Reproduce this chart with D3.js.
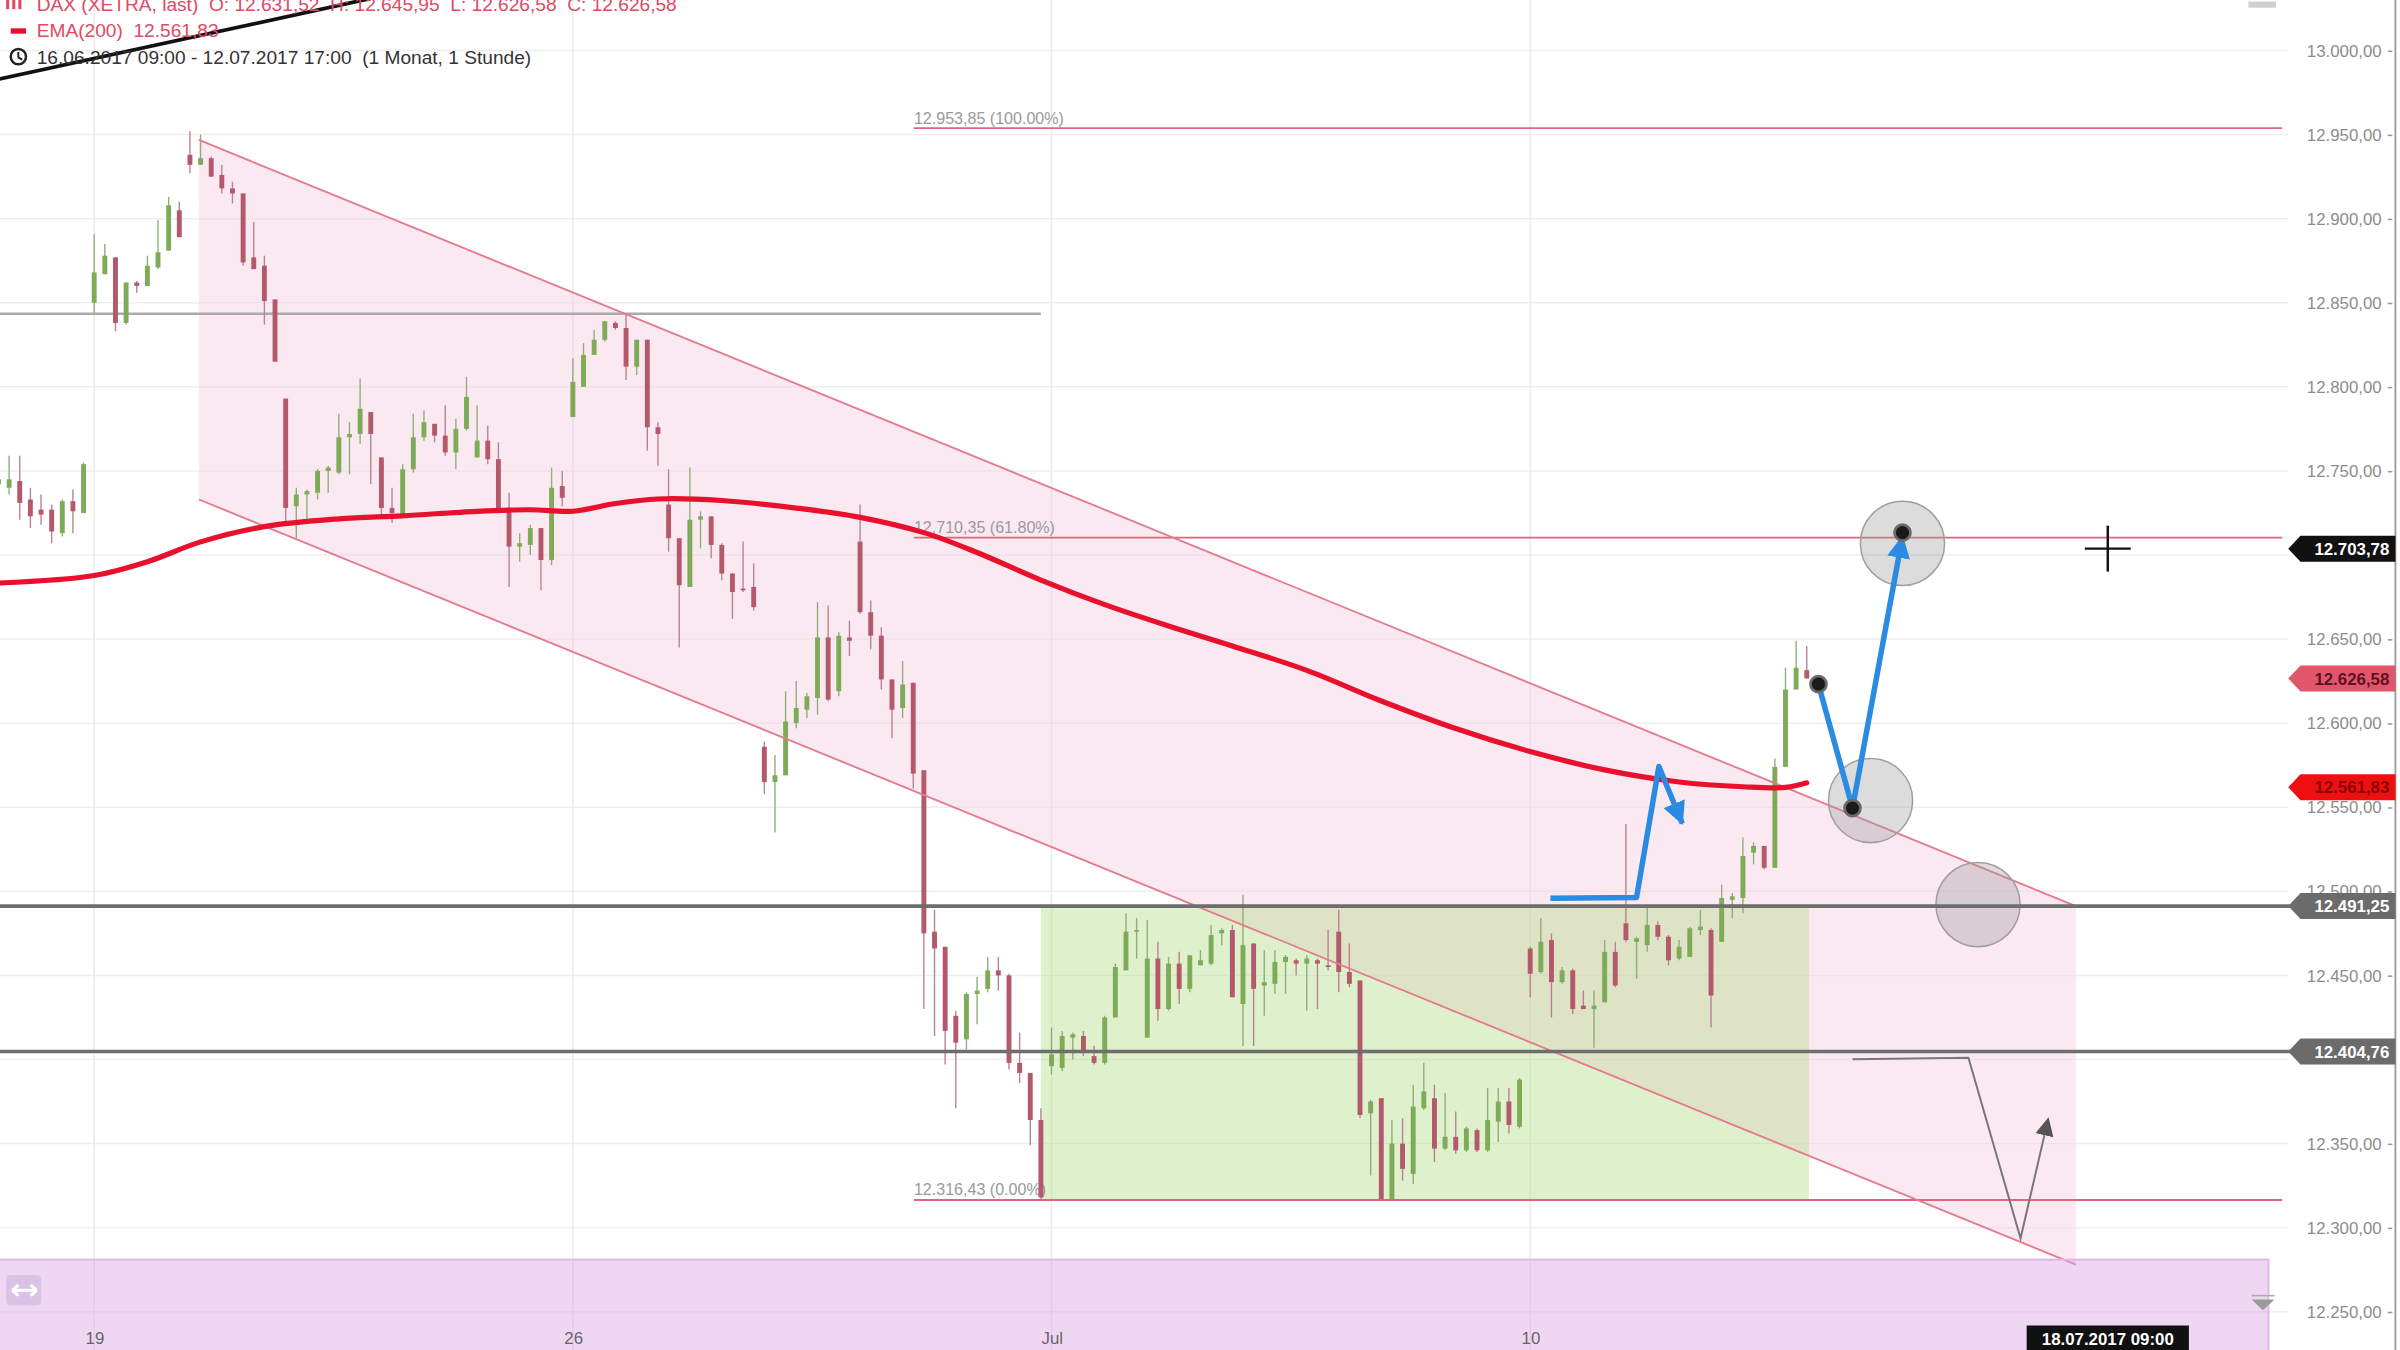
<!DOCTYPE html>
<html><head><meta charset="utf-8">
<script src="https://cdn.jsdelivr.net/npm/d3@7"></script>
<style>html,body{margin:0;padding:0;background:#fff;overflow:hidden}svg{display:block;font-family:"Liberation Sans",Arial,sans-serif}</style>
</head><body>
<svg id="chart" width="2400" height="1350" viewBox="0 0 1568 882"></svg>
<script>
// ---------- DATA (hourly candles, index 0 = 16.06.2017 09:00) ----------
const candleOpen = [
12742,12740,12744,12733,12727,12727,12713,12732,12725,
12850,12867,12877,12838,12862,12860,12871,12881,12905,
12938,12932,12936,12926,12918,12915,12877,12872,12852,
12793,12729,12736,12737,12750,12749,12770,12772,12785,
12758,12728,12724,12751,12770,12778,12771,12761,12775,
12758,12768,12757,12728,12705,12706,12716,12697,12741,
12782,12800,12819,12828,12838,12835,12812,12828,12776,
12730,12710,12681,12721,12723,12706,12689,12680,12681,
12586,12565,12569,12600,12608,12615,12651,12619,12651,
12708,12666,12652,12626,12609,12624,12572,12476,12467,
12426,12412,12439,12442,12453,12450,12398,12392,12364,
12396,12395,12413,12414,12402,12398,12425,12453,12476,
12413,12460,12430,12457,12442,12456,12457,12475,12477,
12433,12469,12444,12445,12458,12459,12457,12459,12456,
12476,12452,12447,12368,12377,12317,12350,12332,12371,
12377,12347,12354,12346,12358,12346,12363,12375,12360,
12466,12452,12471,12446,12453,12432,12430,12434,12464,
12481,12470,12468,12480,12473,12460,12461,12477,12477,
12470,12495,12496,12523,12527,12514,12574,12620,12631.52];
const candleHigh = [
12752,12759,12759,12740,12736,12730,12733,12739,12755,
12891,12885,12877,12862,12863,12878,12899,12913,12910,
12952,12950,12937,12932,12922,12915,12898,12878,12852,
12793,12740,12739,12751,12753,12784,12779,12805,12785,
12758,12740,12754,12784,12786,12778,12789,12781,12806,
12789,12777,12767,12737,12713,12718,12716,12752,12750,
12817,12826,12834,12839,12839,12843,12828,12828,12779,
12751,12710,12752,12726,12723,12707,12689,12708,12695,
12589,12581,12619,12625,12618,12672,12670,12654,12661,
12730,12673,12657,12626,12637,12624,12572,12489,12467,
12429,12440,12449,12461,12461,12451,12416,12392,12371,
12419,12417,12416,12417,12408,12426,12457,12487,12484,
12483,12470,12461,12464,12462,12465,12480,12478,12480,
12498,12469,12465,12465,12462,12460,12462,12460,12477,
12489,12469,12447,12376,12377,12364,12365,12385,12398,
12385,12380,12369,12360,12359,12383,12383,12383,12389,
12467,12484,12475,12455,12454,12441,12441,12471,12470,
12540,12473,12491,12482,12474,12471,12479,12489,12478,
12504,12499,12532,12529,12527,12579,12633,12649,12645.95];
const candleLow = [
12735,12736,12721,12716,12718,12707,12711,12713,12725,
12844,12867,12833,12837,12856,12860,12870,12881,12889,
12927,12932,12925,12915,12909,12872,12870,12837,12815,
12720,12709,12720,12733,12737,12748,12748,12766,12742,
12723,12719,12724,12749,12768,12767,12759,12751,12774,
12758,12754,12728,12681,12696,12700,12679,12694,12729,
12782,12800,12819,12827,12834,12804,12807,12762,12753,
12702,12645,12681,12704,12698,12685,12662,12678,12667,
12558,12535,12569,12597,12603,12605,12613,12616,12640,
12665,12644,12620,12591,12603,12561,12430,12414,12397,
12371,12406,12421,12440,12441,12394,12386,12349,12317,
12391,12393,12400,12402,12397,12397,12425,12453,12460,
12413,12423,12429,12433,12440,12456,12456,12468,12437,
12408,12408,12426,12439,12439,12450,12429,12430,12453,
12440,12443,12365,12331,12316,12317,12328,12326,12370,
12339,12346,12344,12345,12345,12345,12351,12356,12359,
12437,12451,12425,12445,12427,12430,12407,12434,12443,
12470,12448,12464,12471,12456,12459,12461,12474,12419,
12470,12484,12487,12516,12513,12514,12574,12620,12626.58];
const candleClose = [
12745,12745,12731,12723,12724,12714,12732,12726,12754,
12868,12878,12838,12862,12860,12872,12880,12908,12889,
12932,12936,12925,12918,12915,12874,12870,12851,12815,
12728,12736,12738,12750,12752,12770,12772,12787,12772,
12728,12725,12751,12770,12779,12771,12761,12775,12794,
12768,12757,12728,12705,12707,12716,12697,12740,12734,
12803,12819,12828,12839,12835,12812,12828,12776,12772,
12710,12682,12721,12723,12706,12689,12678,12679,12669,
12565,12569,12601,12609,12616,12651,12614,12652,12649,
12666,12652,12626,12608,12623,12570,12475,12466,12417,
12410,12439,12441,12453,12450,12398,12392,12364,12318,
12403,12414,12415,12405,12398,12425,12455,12476,12477,
12460,12430,12457,12442,12462,12459,12474,12477,12437,
12468,12442,12446,12458,12461,12457,12460,12457,12455,
12452,12445,12367,12375,12317,12350,12335,12372,12381,
12347,12354,12346,12359,12346,12364,12375,12361,12388,
12451,12470,12446,12453,12430,12430,12432,12464,12444,
12471,12472,12480,12473,12459,12467,12478,12479,12438,
12496,12497,12521,12527,12514,12574,12620,12633,12626.58];

// EMA(200) read at candle indices
const emaIndex = [0,9,14,19,25,32,38,45,50,54,58,62,68,75,81,87,92,98,104,110,116,123,130,137,144,151,158,164,168,170];
const emaValue = [12683.3,12687.8,12696,12707.8,12716.9,12721.5,12723.3,12726,12726.9,12726,12730.6,12733.3,12732.4,12727.9,12722.4,12713.3,12701.5,12685.1,12670.5,12657.8,12645.9,12631.4,12613.2,12596.8,12583.1,12572.2,12565,12562.2,12561.8,12564.5];

// axis ticks
const yTickValues = [12250,12300,12350,12400,12450,12500,12550,12600,12650,12700,12750,12800,12850,12900,12950,13000];
const yTickHidden = [12400,12700]; // covered by price tags in the reference
const xTickIndex = [9,54,99,144];
const xTickLabels = ["19","26","Jul","10"];

// drawings (candle index, price)
const channelIndex = [18.85,195.3];
const channelUpper = [12946.8,12491.25];
const channelLower = [12733,12278];
const fibIndex = [86.06,214.7];
const fibLevels = [12953.85,12710.35,12316.43];
const fibLabels = ["12.953,85 (100.00%)","12.710,35 (61.80%)","12.316,43 (0.00%)"];
const supportLevels = [12491.25,12404.76];
const grayLineLevel = 12843.5, grayLineIndex = [-2,98.0];
const boxIndex = [98.0,170.2], boxLevels = [12316.43,12491.25];
const bandIndex = [-2,213.4], bandLevels = [12281,12200];
const blueArrow1Index = [145.9,154.0,156.1,158.3];
const blueArrow1Value = [12495.9,12496.4,12574.2,12540.3];
const blueArrow2Index = [171.1,174.3,179.0];
const blueArrow2Value = [12623.2,12549.5,12711];
const dotIndex = [171.1,174.3,179.0];
const dotValue = [12623.2,12549.5,12713.3];
const circleIndex = [179.0,176.0,186.1];
const circleValue = [12706.9,12554,12492.1];
const grayArrowIndex = [174.3,185.2,190.1,192.7];
const grayArrowValue = [12400.2,12401.1,12293.7,12364.7];
const trendIndex = [-1,35], trendValue = [12981.5,13031];
const crossIndex = 198.3, crossValue = 12703.78;
const tagValues = [12703.78,12626.58,12561.83,12491.25,12404.76];
const tagLabels = ["12.703,78","12.626,58","12.561,83","12.491,25","12.404,76"];
const tagFill = ["#111111","#e2566c","#ee1010","#6b6b6b","#6b6b6b"];
const tagText = ["#ffffff","#5c1222","#8a0000","#ffffff","#ffffff"];
const legendOHLC = "DAX (XETRA, last)  O: 12.631,52  H: 12.645,95  L: 12.626,58  C: 12.626,58";
const legendEMA = "EMA(200)  12.561,83";
const legendRange = "16.06.2017 09:00 - 12.07.2017 17:00  (1 Monat, 1 Stunde)";
const cursorDate = "18.07.2017 09:00";

// ---------- SCALES ----------
const svg = d3.select("#chart");
const x = d3.scaleLinear().domain([0,198]).range([-1,1375]);
const y = d3.scaleLinear().domain([12250,13000]).range([857,33]);
const de = d3.formatLocale({decimal:",",thousands:".",grouping:[3],currency:["","€"]});
const fmt = de.format(",.2f");
const PLOT_R = 1495, AXIS_X = 1565;

const defs = svg.append("defs");
function marker(id, color, len, hw){
  defs.append("marker").attr("id",id).attr("markerUnits","userSpaceOnUse")
    .attr("viewBox",`0 ${-hw} ${len} ${2*hw}`).attr("refX",len-1).attr("refY",0)
    .attr("markerWidth",len).attr("markerHeight",2*hw).attr("orient","auto")
    .append("path").attr("d",`M0,${-hw}L${len},0L0,${hw}Z`).attr("fill",color);
}
marker("blueHead","#2a8be2",15,7.5);
marker("grayHead","#555",12,6);
svg.append("clipPath").attr("id","plotClip").append("rect").attr("x",0).attr("y",0).attr("width",PLOT_R).attr("height",882);

svg.append("rect").attr("width",1568).attr("height",882).attr("fill","#fff");

// grid
const grid = svg.append("g");
grid.selectAll("line.h").data(yTickValues).join("line").attr("class","h")
  .attr("x1",0).attr("x2",PLOT_R).attr("y1",d=>y(d)).attr("y2",d=>y(d))
  .attr("stroke","#eeeeee").attr("stroke-width",1);
grid.selectAll("line.v").data(xTickIndex).join("line").attr("class","v")
  .attr("x1",d=>x(d)).attr("x2",d=>x(d)).attr("y1",0).attr("y2",882)
  .attr("stroke","#ececec").attr("stroke-width",1);

const plot = svg.append("g").attr("clip-path","url(#plotClip)");

// channel fill
const chan = [[channelIndex[0],channelUpper[0]],[channelIndex[1],channelUpper[1]],[channelIndex[1],channelLower[1]],[channelIndex[0],channelLower[0]]];
plot.append("path").attr("d",d3.line().x(d=>x(d[0])).y(d=>y(d[1]))(chan)+"Z")
  .attr("fill","#f6cfdf").attr("fill-opacity",0.45);

// green box
plot.append("rect").attr("x",x(boxIndex[0])).attr("width",x(boxIndex[1])-x(boxIndex[0]))
  .attr("y",y(boxLevels[1])).attr("height",y(boxLevels[0])-y(boxLevels[1]))
  .attr("fill","#b2dc86").attr("fill-opacity",0.42);

// gray horizontal line
plot.append("line").attr("x1",x(grayLineIndex[0])).attr("x2",x(grayLineIndex[1]))
  .attr("y1",y(grayLineLevel)).attr("y2",y(grayLineLevel)).attr("stroke","#aaaaaa").attr("stroke-width",1.6);

// support lines
svg.selectAll("line.sup").data(supportLevels).join("line").attr("class","sup")
  .attr("x1",0).attr("x2",PLOT_R+4).attr("y1",d=>y(d)).attr("y2",d=>y(d))
  .attr("stroke","#6e6e6e").attr("stroke-width",2.4);

// fib lines
plot.selectAll("line.fib").data(fibLevels).join("line").attr("class","fib")
  .attr("x1",x(fibIndex[0])).attr("x2",x(fibIndex[1])).attr("y1",d=>y(d)).attr("y2",d=>y(d))
  .attr("stroke","#e0647c").attr("stroke-width",1.2);
plot.selectAll("text.fib").data(fibLevels).join("text").attr("class","fib")
  .attr("x",x(fibIndex[0])).attr("y",d=>y(d)-3).text((d,i)=>fibLabels[i])
  .attr("font-size",10.5).attr("fill","#9a9a9a");

// candles
const idx = d3.range(candleOpen.length);
const cg = plot.append("g");
cg.selectAll("line.wick").data(idx).join("line").attr("class","wick")
  .attr("x1",i=>x(i)).attr("x2",i=>x(i))
  .attr("y1",i=>y(Math.max(candleHigh[i],candleOpen[i],candleClose[i])))
  .attr("y2",i=>y(Math.min(candleLow[i],candleOpen[i],candleClose[i])))
  .attr("stroke",i=>candleClose[i]>=candleOpen[i]?"#8fae7a":"#b98290").attr("stroke-width",0.9);
cg.selectAll("rect.body").data(idx).join("rect").attr("class","body")
  .attr("x",i=>x(i)-1.6).attr("width",3.2)
  .attr("y",i=>y(Math.max(candleOpen[i],candleClose[i])))
  .attr("height",i=>Math.max(1,Math.abs(y(candleOpen[i])-y(candleClose[i]))))
  .attr("fill",i=>candleClose[i]>=candleOpen[i]?"#7dab58":"#b4596c");

// channel lines
plot.selectAll("line.chan").data([channelUpper,channelLower]).join("line").attr("class","chan")
  .attr("x1",x(channelIndex[0])).attr("x2",x(channelIndex[1]))
  .attr("y1",d=>y(d[0])).attr("y2",d=>y(d[1]))
  .attr("stroke","#e5798f").attr("stroke-width",1.2);

// EMA
plot.append("path").datum(emaIndex.map((d,i)=>[d,emaValue[i]]))
  .attr("d",d3.line().x(d=>x(d[0])).y(d=>y(d[1])).curve(d3.curveCatmullRom))
  .attr("fill","none").attr("stroke","#e8102c").attr("stroke-width",3.4).attr("stroke-linecap","round");

// trend line (top-left)
plot.append("line").attr("x1",x(trendIndex[0])).attr("x2",x(trendIndex[1]))
  .attr("y1",y(trendValue[0])).attr("y2",y(trendValue[1])).attr("stroke","#111").attr("stroke-width",2.4);

// bottom band
svg.append("rect").attr("x",x(bandIndex[0])).attr("width",x(bandIndex[1])-x(bandIndex[0]))
  .attr("y",y(bandLevels[0])).attr("height",y(bandLevels[1])-y(bandLevels[0]))
  .attr("fill","#dca6e6").attr("fill-opacity",0.45).attr("stroke","#e2b3ea").attr("stroke-width",1.2);

// gray circles
plot.selectAll("circle.zone").data(circleIndex).join("circle").attr("class","zone")
  .attr("cx",d=>x(d)).attr("cy",(d,i)=>y(circleValue[i])).attr("r",27.5)
  .attr("fill","#9a9a9a").attr("fill-opacity",0.35).attr("stroke","#a0a0a0").attr("stroke-width",1);

// gray arrow
plot.append("path").datum(grayArrowIndex.map((d,i)=>[d,grayArrowValue[i]]))
  .attr("d",d3.line().x(d=>x(d[0])).y(d=>y(d[1])))
  .attr("fill","none").attr("stroke","#777").attr("stroke-width",1.3).attr("marker-end","url(#grayHead)");

// blue arrows
plot.append("path").datum(blueArrow1Index.map((d,i)=>[d,blueArrow1Value[i]]))
  .attr("d",d3.line().x(d=>x(d[0])).y(d=>y(d[1])))
  .attr("fill","none").attr("stroke","#2a8be2").attr("stroke-width",3.6).attr("stroke-linejoin","round")
  .attr("marker-end","url(#blueHead)");
plot.append("path").datum(blueArrow2Index.map((d,i)=>[d,blueArrow2Value[i]]))
  .attr("d",d3.line().x(d=>x(d[0])).y(d=>y(d[1])))
  .attr("fill","none").attr("stroke","#2a8be2").attr("stroke-width",3.6).attr("stroke-linejoin","round")
  .attr("marker-end","url(#blueHead)");

// black dots
plot.selectAll("circle.dot").data(dotIndex).join("circle").attr("class","dot")
  .attr("cx",d=>x(d)).attr("cy",(d,i)=>y(dotValue[i])).attr("r",5.2)
  .attr("fill","#1a1a1a").attr("stroke","#6a6a6a").attr("stroke-width",1.8);

// crosshair
const cx0 = x(crossIndex), cy0 = y(crossValue);
svg.append("line").attr("x1",cx0-15).attr("x2",cx0+15).attr("y1",cy0).attr("y2",cy0).attr("stroke","#111").attr("stroke-width",1.6);
svg.append("line").attr("x1",cx0).attr("x2",cx0).attr("y1",cy0-15).attr("y2",cy0+15).attr("stroke","#111").attr("stroke-width",1.6);

// Y axis
const yAxisG = svg.append("g").attr("transform",`translate(${AXIS_X-2},0)`)
  .call(d3.axisLeft(y).tickValues(yTickValues).tickSize(3).tickPadding(4)
    .tickFormat(d=>yTickHidden.includes(d)?"":fmt(d)));
yAxisG.select(".domain").remove();
yAxisG.selectAll("text").attr("font-size",11).attr("fill","#8c8c8c").attr("font-family","Liberation Sans, Arial, sans-serif");
yAxisG.selectAll("line").attr("stroke","#999");
svg.append("line").attr("x1",AXIS_X).attr("x2",AXIS_X).attr("y1",0).attr("y2",882).attr("stroke","#9a9a9a").attr("stroke-width",1.2);

// X axis
const xAxisG = svg.append("g").attr("transform","translate(0,866)")
  .call(d3.axisBottom(x).tickValues(xTickIndex).tickSize(0).tickPadding(4).tickFormat((d,i)=>xTickLabels[i]));
xAxisG.select(".domain").remove();
xAxisG.selectAll("text").attr("font-size",11).attr("fill","#666").attr("font-family","Liberation Sans, Arial, sans-serif");

// price tags
const tags = svg.append("g").selectAll("g").data(tagValues).join("g")
  .attr("transform",d=>`translate(0,${y(d)})`);
tags.append("path").attr("d",`M${PLOT_R},0L${PLOT_R+8},-8.5L${AXIS_X},-8.5L${AXIS_X},8.5L${PLOT_R+8},8.5Z`)
  .attr("fill",(d,i)=>tagFill[i]);
tags.append("text").attr("x",AXIS_X-4).attr("y",4).attr("text-anchor","end")
  .attr("font-size",11).attr("font-weight","bold").attr("fill",(d,i)=>tagText[i]).text((d,i)=>tagLabels[i]);

// cursor date label
svg.append("rect").attr("x",cx0-53).attr("y",866).attr("width",106).attr("height",17).attr("fill","#111");
svg.append("text").attr("x",cx0).attr("y",879).attr("text-anchor","middle").attr("font-size",11)
  .attr("font-weight","bold").attr("fill","#fff").text(cursorDate);

// small UI bits
svg.append("rect").attr("x",1469).attr("y",1).attr("width",18).attr("height",4).attr("fill","#cfcfcf");
svg.append("rect").attr("x",4).attr("y",833).attr("width",23).attr("height",20).attr("rx",3).attr("fill","#d9c2e3");
svg.append("path").attr("d","M8,843L24,843M8,843L12,839.5M8,843L12,846.5M24,843L20,839.5M24,843L20,846.5")
  .attr("stroke","#fff").attr("stroke-width",2).attr("fill","none");
svg.append("path").attr("d","M1471,849L1486,849L1478.5,856Z").attr("fill","#9a9a9a");
svg.append("line").attr("x1",1471).attr("x2",1486).attr("y1",846.5).attr("y2",846.5).attr("stroke","#aaa").attr("stroke-width",1);

// legend
const leg = svg.append("g").attr("font-size",12.5);
leg.append("rect").attr("x",4).attr("y",-2).attr("width",2).attr("height",8).attr("fill","#e04a63");
leg.append("rect").attr("x",8).attr("y",0).attr("width",2).attr("height",6).attr("fill","#e04a63");
leg.append("rect").attr("x",12).attr("y",-1).attr("width",2).attr("height",7).attr("fill","#e04a63");
leg.append("text").attr("x",24).attr("y",7).attr("fill","#e04a63").attr("xml:space","preserve").text(legendOHLC);
leg.append("rect").attr("x",7).attr("y",18.5).attr("width",10).attr("height",3.5).attr("fill","#e3112d");
leg.append("text").attr("x",24).attr("y",24).attr("fill","#e04a63").attr("xml:space","preserve").text(legendEMA);
leg.append("circle").attr("cx",12).attr("cy",37).attr("r",5).attr("fill","none").attr("stroke","#222").attr("stroke-width",1.6);
leg.append("path").attr("d","M12,34L12,37.5L14.5,39").attr("fill","none").attr("stroke","#222").attr("stroke-width",1.3);
leg.append("text").attr("x",24).attr("y",41.5).attr("fill","#333").attr("xml:space","preserve").text(legendRange);
</script>
</body></html>
